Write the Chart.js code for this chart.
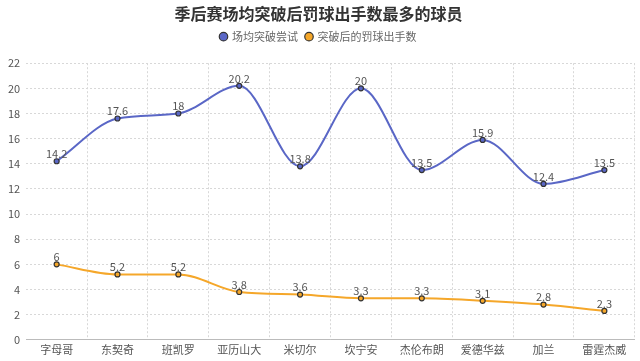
<html>
<head>
<meta charset="utf-8">
<style>
  body { margin: 0; background: #fff; }
  #wrap { width: 640px; height: 361px; }
</style>
</head>
<body>
<script src="https://cdn.jsdelivr.net/npm/chart.js@4.4.0/dist/chart.umd.min.js"></script>
<div id="wrap"><canvas id="myChart" width="640" height="361"></canvas></div>
<script>
    var players = ['字母哥', '东契奇', '班凯罗', '亚历山大', '米切尔', '坎宁安', '杰伦布朗', '爱德华兹', '加兰', '雷霆杰威'];
    var drives = [14.2, 17.6, 18, 20.2, 13.8, 20, 13.5, 15.9, 12.4, 13.5];
    var driveFta = [6, 5.2, 5.2, 3.8, 3.6, 3.3, 3.3, 3.1, 2.8, 2.3];
    var yTicks = [0, 2, 4, 6, 8, 10, 12, 14, 16, 18, 20, 22];

    var FONT = '"Noto Sans CJK SC", "Noto Sans", sans-serif';

    // simple value labels above each point (no datalabels plugin here)
    var pointLabels = {
        id: 'pointLabels',
        afterDatasetsDraw: function(chart) {
            var ctx = chart.ctx;
            ctx.save();
            ctx.font = '11px ' + FONT;
            ctx.fillStyle = '#555';
            ctx.textAlign = 'center';
            ctx.textBaseline = 'bottom';
            chart.data.datasets.forEach(function(ds, i) {
                var meta = chart.getDatasetMeta(i);
                meta.data.forEach(function(pt, j) {
                    ctx.fillText(ds.data[j], pt.x, pt.y - 2);
                });
            });
            ctx.restore();
        }
    };

    // extra room under the legend
    var legendGap = {
        id: 'legendGap',
        beforeInit: function(chart) {
            var fit = chart.legend.fit;
            chart.legend.fit = function() {
                fit.call(this);
                this.height += 11;
            };
        }
    };

    new Chart(document.getElementById('myChart').getContext('2d'), {
        type: 'line',
        data: {
            labels: players,
            datasets: [{
                label: '场均突破尝试',
                data: drives,
                borderColor: '#5a67c6',
                backgroundColor: '#5a67c6',
                borderWidth: 2,
                pointRadius: 2.5,
                pointBorderColor: '#333',
                pointBorderWidth: 1.2,
                pointBackgroundColor: '#5a67c6',
                cubicInterpolationMode: 'monotone'
            }, {
                label: '突破后的罚球出手数',
                data: driveFta,
                borderColor: '#f5a72a',
                backgroundColor: '#f5a72a',
                borderWidth: 2,
                pointRadius: 2.5,
                pointBorderColor: '#333',
                pointBorderWidth: 1.2,
                pointBackgroundColor: '#f5a72a',
                cubicInterpolationMode: 'monotone'
            }]
        },
        options: {
            responsive: false,
            animation: false,
            layout: { padding: { left: 2, right: 5, top: 0, bottom: 2 } },
            plugins: {
                title: {
                    display: true,
                    text: '季后赛场均突破后罚球出手数最多的球员',
                    color: '#333',
                    font: { family: FONT, size: 16, weight: 'bold' },
                    padding: { top: 4, bottom: 0 }
                },
                legend: {
                    labels: {
                        usePointStyle: true,
                        pointStyle: 'circle',
                        boxWidth: 6,
                        boxHeight: 6,
                        color: '#666',
                        font: { family: FONT, size: 11 },
                        padding: 8
                    }
                },
                tooltip: { enabled: false }
            },
            scales: {
                x: {
                    offset: true,
                    grid: {
                        offset: true,
                        // no line on the left edge, like the original
                        color: function(c) { return c.index === 0 ? 'rgba(0,0,0,0)' : '#d8d8d8'; },
                        drawTicks: false
                    },
                    border: { display: true, color: '#bbb', dash: [2, 2] },
                    ticks: { color: '#555', font: { family: FONT, size: 11 }, padding: 3, autoSkip: false, maxRotation: 0 }
                },
                y: {
                    min: 0,
                    max: 22,
                    afterBuildTicks: function(axis) {
                        axis.ticks = yTicks.map(function(v) { return { value: v }; });
                    },
                    grid: { color: '#d8d8d8', drawTicks: false },
                    border: { display: false, dash: [2, 2] },
                    ticks: { color: '#555', font: { family: FONT, size: 11 }, padding: 6 }
                }
            }
        },
        plugins: [pointLabels, legendGap]
    });
</script>
</body>
</html>
